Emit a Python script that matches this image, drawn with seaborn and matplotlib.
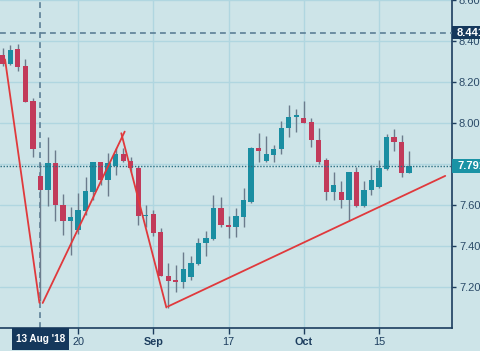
import numpy as np
import pandas as pd
import matplotlib
matplotlib.use("Agg")
import matplotlib.pyplot as plt
import matplotlib.transforms as mtrans
from matplotlib.patches import Rectangle
import seaborn as sns

# ---------------- data ----------------
dates = pd.bdate_range("2018-08-06", "2018-10-19")
opens = [8.332, 8.288, 8.360, 8.280, 8.108,
         7.742, 7.674, 7.807, 7.602, 7.520,
         7.476, 7.573, 7.661, 7.809, 7.723,
         7.788, 7.850, 7.817, 7.780, 7.544,
         7.557, 7.466, 7.256, 7.232, 7.224,
         7.249, 7.312, 7.414, 7.434, 7.585,
         7.500, 7.495, 7.541, 7.617, 7.877,
         7.815, 7.845, 7.872, 7.975, 8.031,
         8.026, 8.004, 7.918, 7.820, 7.663,
         7.663, 7.622, 7.760, 7.593, 7.671,
         7.687, 7.776, 7.931, 7.909, 7.758]
highs = [8.366, 8.381, 8.386, 8.311, 8.124,
         7.807, 7.931, 7.866, 7.653, 7.590,
         7.658, 7.739, 7.812, 7.812, 7.853,
         7.877, 7.880, 7.836, 7.788, 7.601,
         7.577, 7.487, 7.317, 7.309, 7.373,
         7.349, 7.439, 7.471, 7.650, 7.637,
         7.544, 7.585, 7.685, 7.882, 7.953,
         7.937, 7.893, 8.012, 8.088, 8.067,
         8.109, 8.024, 7.975, 7.829, 7.763,
         7.718, 7.763, 7.785, 7.718, 7.796,
         7.820, 7.947, 7.970, 7.942, 7.864]
lows = [8.278, 8.283, 8.255, 8.101, 7.836,
        7.130, 7.596, 7.520, 7.455, 7.357,
        7.460, 7.552, 7.625, 7.698, 7.645,
        7.744, 7.810, 7.763, 7.504, 7.495,
        7.447, 7.252, 7.100, 7.174, 7.195,
        7.235, 7.309, 7.352, 7.427, 7.492,
        7.439, 7.444, 7.495, 7.612, 7.812,
        7.809, 7.812, 7.850, 7.934, 7.958,
        7.998, 7.885, 7.801, 7.625, 7.622,
        7.585, 7.520, 7.590, 7.588, 7.650,
        7.682, 7.772, 7.861, 7.739, 7.755]
closes = [8.288, 8.356, 8.275, 8.104, 7.872,
          7.674, 7.807, 7.601, 7.520, 7.541,
          7.577, 7.666, 7.809, 7.723, 7.804,
          7.848, 7.817, 7.780, 7.544, 7.552,
          7.463, 7.255, 7.231, 7.224, 7.289,
          7.317, 7.417, 7.439, 7.585, 7.504,
          7.494, 7.544, 7.625, 7.877, 7.864,
          7.850, 7.872, 7.975, 8.031, 8.040,
          8.002, 7.918, 7.812, 7.663, 7.698,
          7.622, 7.760, 7.593, 7.674, 7.723,
          7.780, 7.934, 7.907, 7.758, 7.791]

# hand-drawn trend lines (start bar position, start value, end bar position, end value)
trend_x0 = [0.30, 5.30, 15.75, 21.95]
trend_y0 = [8.310, 7.122, 7.950, 7.105]
trend_x1 = [4.87, 16.20, 21.74, 58.80]
trend_y1 = [7.123, 7.958, 7.100, 7.742]

tick_dates = ["2018-08-20", "2018-09-03", "2018-09-17", "2018-10-01", "2018-10-15"]
tick_labels = ["20", "Sep", "17", "Oct", "15"]
cursor_date = "2018-08-13"
cursor_label = "13 Aug '18"
ref_level = 8.441
last_price = 7.791
y_ticks = [7.2, 7.4, 7.6, 7.8, 8.0, 8.2, 8.4, 8.6]

# ---------------- style ----------------
BG = "#cde4e8"
GRID = "#b0d6e0"
NAVY = "#1c3d5e"
UP = "#1a8ea2"
DOWN = "#c23a5a"
WICK = "#6b7b8c"
TREND = "#e0393c"

sns.set_theme(style="ticks")
plt.rcParams["font.family"] = ["Liberation Sans", "DejaVu Sans"]

fig = plt.figure(figsize=(4.8, 3.51), dpi=100, facecolor=BG)
ax = fig.add_axes([0, 23 / 351, 452 / 480, 328 / 351], facecolor=BG)

idx = np.arange(len(dates))
o = np.array(opens); h = np.array(highs); l = np.array(lows); c = np.array(closes)
up = c >= o
colors = np.where(up, UP, DOWN)

# wicks + bodies
ax.vlines(idx, l, h, color=WICK, lw=1.0, zorder=3)
body_lo = np.minimum(o, c)
body_h = np.maximum(np.abs(c - o), 0.007)
ax.bar(idx, body_h, bottom=body_lo, width=0.7, color=colors, linewidth=0, zorder=4)

# trend lines via seaborn
rows = []
for k in range(len(trend_x0)):
    rows.append({"seg": k, "x": trend_x0[k], "y": trend_y0[k]})
    rows.append({"seg": k, "x": trend_x1[k], "y": trend_y1[k]})
tdf = pd.DataFrame(rows)
sns.lineplot(data=tdf, x="x", y="y", units="seg", estimator=None, color=TREND,
             lw=1.3, ax=ax, legend=False, zorder=6, sort=False)

# cursor & reference lines
date_index = {d.strftime("%Y-%m-%d"): i for i, d in enumerate(dates)}
cx = date_index[cursor_date]
ax.axhline(ref_level, color="#5c7f96", lw=1.2, dashes=(3.5, 2.5), zorder=5)
ax.axvline(cx, color="#5c7f96", lw=1.2, dashes=(3.5, 2.5), zorder=2)
ax.axhline(last_price, color="#2a6f82", lw=1.0, dashes=(1, 1.2), zorder=5)

# axes
ax.set_xlim(cx - 5.37, cx + 54.7)
ax.set_ylim(7.0, 8.6)
ax.set_xlabel("")
ax.set_ylabel("")
ax.set_xticks([date_index[d] for d in tick_dates])
ax.set_xticklabels(tick_labels)
for t in ax.get_xticklabels():
    if t.get_text() in ("Sep", "Oct"):
        t.set_fontweight("bold")
ax.set_yticks(y_ticks)
# the 7.800 label sits fully behind the last-price box, so leave it blank
ax.set_yticklabels(["" if abs(v - 7.8) < 1e-9 else f"{v:.3f}" for v in y_ticks])
ax.yaxis.tick_right()
ax.tick_params(axis="y", which="both", right=True, left=False, labelright=True,
               labelleft=False, length=3, width=1, color=NAVY, labelcolor="#2a4a68",
               labelsize=8, pad=2)
ax.tick_params(axis="x", length=4, width=1, color=NAVY, labelcolor=NAVY,
               labelsize=7.8, pad=2.5)
ax.grid(True, color=GRID, lw=1)
ax.set_axisbelow(True)
for s in ("top", "left"):
    ax.spines[s].set_visible(False)
for s in ("right", "bottom"):
    ax.spines[s].set_color(NAVY)
    ax.spines[s].set_linewidth(1.2)

# price boxes on the right
ytr = mtrans.blended_transform_factory(ax.transAxes, ax.transData)
box_h = 13.4 / 205.0
for level, fc in ((ref_level, "#15385c"), (last_price, "#1a93a5")):
    ax.add_patch(Rectangle((1.0, level - box_h / 2), 0.08, box_h, transform=ytr,
                           facecolor=fc, edgecolor="none", clip_on=False, zorder=20))
    ax.text(1.0 + 5 / 452, level, f"{level:.3f}", transform=ytr, ha="left",
            va="center", color="white", fontsize=8, fontweight="bold",
            clip_on=False, zorder=21)

# cursor date label
xtr = mtrans.blended_transform_factory(ax.transData, ax.transAxes)
ax.add_patch(Rectangle((cx - 3.78, -22 / 328), 7.64, 22 / 328, transform=xtr,
                       facecolor="#15385c", edgecolor="none", clip_on=False, zorder=20))
ax.text(cx + 0.05, -11.5 / 328, cursor_label, transform=xtr, ha="center", va="center",
        color="white", fontsize=7.2, fontweight="bold", clip_on=False, zorder=21)

fig.savefig("out.png", dpi=100, facecolor=BG)
